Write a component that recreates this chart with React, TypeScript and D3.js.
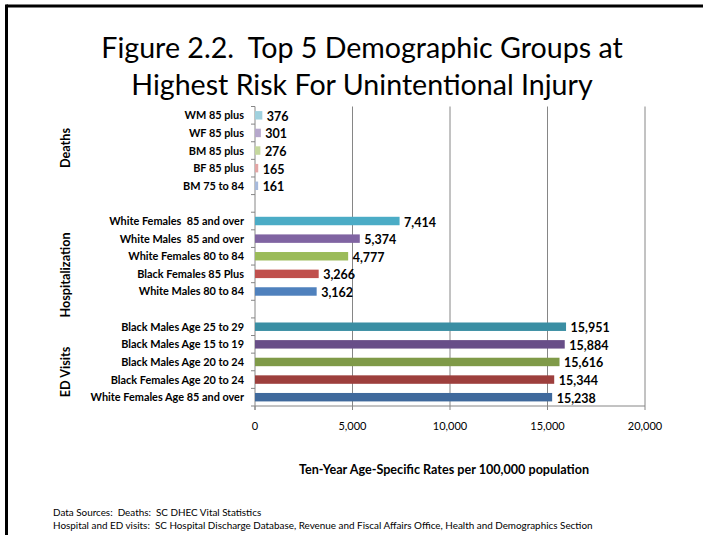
import React from "react";
import * as d3 from "d3";

const TITLE_LINES = ["Figure 2.2.  Top 5 Demographic Groups at", "Highest Risk For Unintentional Injury"];

const deathLabels = ["WM 85 plus", "WF 85 plus", "BM 85 plus", "BF 85 plus", "BM 75 to 84"];
const deathValues = [376, 301, 276, 165, 161];
const deathColors = ["#a0d1de", "#b6a8cc", "#c5d89e", "#e3a6a5", "#a7badc"];

const hospLabels = ["White Females  85 and over", "White Males  85 and over", "White Females 80 to 84", "Black Females 85 Plus", "White Males 80 to 84"];
const hospValues = [7414, 5374, 4777, 3266, 3162];
const hospColors = ["#4bacc6", "#8064a2", "#9bbb59", "#c0504d", "#4f81bd"];

const edLabels = ["Black Males Age 25 to 29", "Black Males Age 15 to 19", "Black Males Age 20 to 24", "Black Females Age 20 to 24", "White Females Age 85 and over"];
const edValues = [15951, 15884, 15616, 15344, 15238];
const edColors = ["#3a8ea3", "#684e88", "#7f9a48", "#9d3f3d", "#3f699c"];

const groupNames = ["Deaths", "Hospitalization", "ED Visits"];
const xTicks = [0, 5000, 10000, 15000, 20000];
const xTitle = "Ten-Year Age-Specific Rates per 100,000 population";
const footerLines = [
  "Data Sources:  Deaths:  SC DHEC Vital Statistics",
  "Hospital and ED visits:  SC Hospital Discharge Database, Revenue and Fiscal Affairs Office, Health and Demographics Section",
];

type Row = { key: string; label: string; value: number | null; color: string; group: number };

const rows: Row[] = [];
const groups = [
  { labels: deathLabels, values: deathValues, colors: deathColors },
  { labels: hospLabels, values: hospValues, colors: hospColors },
  { labels: edLabels, values: edValues, colors: edColors },
];
groups.forEach((g, gi) => {
  g.labels.forEach((l, i) => rows.push({ key: `g${gi}-${i}`, label: l, value: g.values[i], color: g.colors[i], group: gi }));
  if (gi < groups.length - 1) rows.push({ key: `gap${gi}`, label: "", value: null, color: "none", group: gi });
});

// group label centres (Excel places them off the exact group middle)
const groupLabelY = [148, 275, 372];

const FONT = "Lato, 'Open Sans', sans-serif";

export default function App() {
  const plotTop = 106.5;
  const plotBottom = 406;
  const x = d3.scaleLinear().domain([0, 20000]).range([255, 645]);
  const y = d3.scaleBand<string>().domain(rows.map((r) => r.key)).range([plotTop, plotBottom]).paddingInner(0.52).paddingOuter(0.26);
  const step = y.step();
  const fmt = d3.format(",");
  const boundaries = d3.range(rows.length + 1).map((i) => plotTop + i * step);

  return (
    <svg width={703} height={535} style={{ position: "absolute", left: 0, top: 0, background: "#fff" }} fontFamily={FONT}>
      <rect x={0} y={0} width={703} height={535} fill="#fff" />
      <line x1={6.5} y1={6} x2={703} y2={6} stroke="#000" strokeWidth={3} />
      <line x1={6.5} y1={4.5} x2={6.5} y2={535} stroke="#000" strokeWidth={3} />

      {TITLE_LINES.map((t, i) => (
        <text key={i} x={362} y={58 + i * 37} textAnchor="middle" fontSize={28.6} fill="#000" style={{ whiteSpace: "pre" }}>
          {t}
        </text>
      ))}

      {xTicks.slice(1).map((t) => (
        <line key={t} x1={x(t)} x2={x(t)} y1={plotTop} y2={plotBottom} stroke="#868686" strokeWidth={1} />
      ))}
      <line x1={x(0)} x2={x(0)} y1={plotTop} y2={plotBottom + 4} stroke="#868686" strokeWidth={1} />
      {boundaries.map((b, i) => (
        <line key={i} x1={x(0) - 4} x2={x(0)} y1={b} y2={b} stroke="#868686" strokeWidth={1} />
      ))}
      <line x1={x(0)} x2={x(20000)} y1={plotBottom} y2={plotBottom} stroke="#868686" strokeWidth={1} />
      {xTicks.map((t) => (
        <g key={t}>
          <line x1={x(t)} x2={x(t)} y1={plotBottom} y2={plotBottom + 4} stroke="#868686" strokeWidth={1} />
          <text x={x(t)} y={429.5} textAnchor="middle" fontSize={11} fill="#000">
            {fmt(t)}
          </text>
        </g>
      ))}

      {rows.filter((r) => r.value !== null).map((r) => {
        const yy = y(r.key)!;
        const h = y.bandwidth();
        return (
          <g key={r.key}>
            <rect x={x(0)} y={yy} width={x(r.value as number) - x(0)} height={h} fill={r.color} />
            <text x={x(r.value as number) + 4.5} y={yy + h / 2 + 5.5} fontSize={12.5} fontWeight="bold" fill="#000">
              {fmt(r.value as number)}
            </text>
            <text x={244} y={yy + h / 2 + 4} textAnchor="end" fontSize={10.9} fontWeight="bold" fill="#000" style={{ whiteSpace: "pre" }}>
              {r.label}
            </text>
          </g>
        );
      })}

      {groupNames.map((g, gi) => (
        <text key={g} transform={`translate(70,${groupLabelY[gi]}) rotate(-90)`} textAnchor="middle" fontSize={12.7} fontWeight="bold" fill="#000">
          {g}
        </text>
      ))}

      <text x={444} y={474} textAnchor="middle" fontSize={12.6} fontWeight="bold" fill="#000">
        {xTitle}
      </text>

      {footerLines.map((t, i) => (
        <text key={i} x={53} y={516 + i * 13} fontSize={9.9} fill="#000" style={{ whiteSpace: "pre" }}>
          {t}
        </text>
      ))}
    </svg>
  );
}
